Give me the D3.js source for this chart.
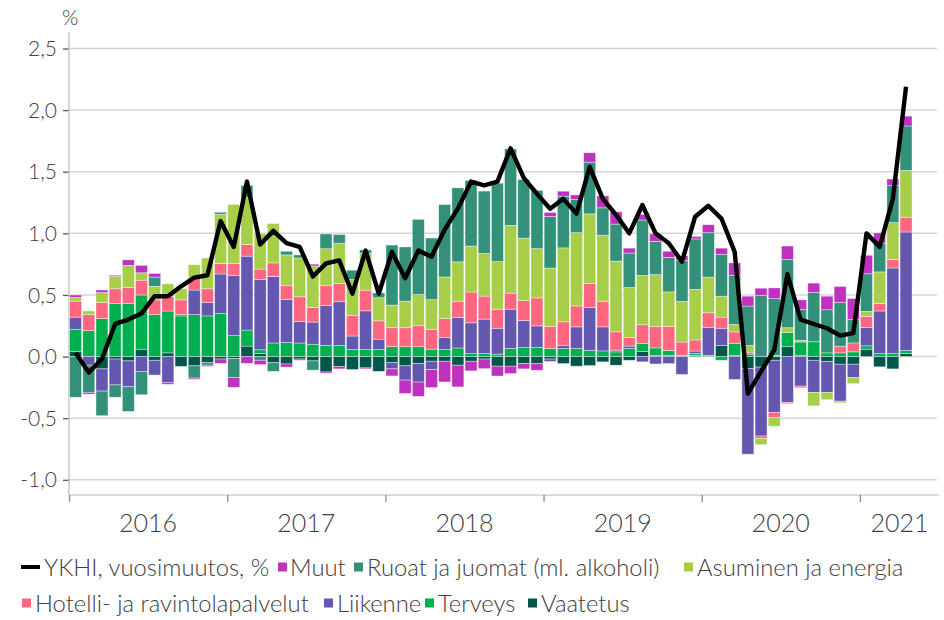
<!DOCTYPE html>
<html>
<head>
<meta charset="utf-8">
<script src="https://cdn.jsdelivr.net/npm/d3@7"></script>
<style>
  body { margin: 0; background: #fff; }
  svg { display: block; font-family: Lato, "Open Sans", sans-serif; font-weight: 300; }
</style>
</head>
<body>
<svg id="chart" width="944" height="620"></svg>
<script>
// kuukaudet 2016-01 ... 2021-04
var months = [
  "2016-01","2016-02","2016-03","2016-04","2016-05","2016-06","2016-07","2016-08","2016-09","2016-10","2016-11","2016-12",
  "2017-01","2017-02","2017-03","2017-04","2017-05","2017-06","2017-07","2017-08","2017-09","2017-10","2017-11","2017-12",
  "2018-01","2018-02","2018-03","2018-04","2018-05","2018-06","2018-07","2018-08","2018-09","2018-10","2018-11","2018-12",
  "2019-01","2019-02","2019-03","2019-04","2019-05","2019-06","2019-07","2019-08","2019-09","2019-10","2019-11","2019-12",
  "2020-01","2020-02","2020-03","2020-04","2020-05","2020-06","2020-07","2020-08","2020-09","2020-10","2020-11","2020-12",
  "2021-01","2021-02","2021-03","2021-04"
];
var years = ["2016", "2017", "2018", "2019", "2020", "2021"];
var yTicks = [-1, -0.5, 0, 0.5, 1, 1.5, 2, 2.5];

// YKHI, vuosimuutos %
var ykhi = [
  0.03, -0.13, -0.02, 0.265, 0.30, 0.35, 0.49, 0.49, 0.57, 0.64, 0.66, 1.10,
  0.89, 1.42, 0.91, 1.02, 0.92, 0.89, 0.65, 0.756, 0.78, 0.51, 0.86, 0.51,
  0.85, 0.635, 0.86, 0.81, 1.03, 1.20, 1.42, 1.39, 1.42, 1.69, 1.45, 1.32,
  1.20, 1.28, 1.16, 1.54, 1.28, 1.15, 1.0, 1.23, 1.0, 0.92, 0.77, 1.135,
  1.224, 1.12, 0.85, -0.30, -0.12, 0.053, 0.67, 0.30, 0.264, 0.23, 0.17, 0.19,
  1.0, 0.89, 1.28, 2.19
];

// vaikutukset, %-yksikköä
var vaatetus = [
  0.04, 0, -0.10, -0.02, -0.035, 0.06, -0.03, 0.03, -0.08, -0.075, -0.05, -0.02,
  -0.015, 0.085, 0.025, -0.05, -0.06, -0.02, -0.035, -0.125, -0.08, -0.105, -0.092, -0.12,
  -0.05, -0.075, -0.057, -0.038, -0.038, -0.07, -0.038, -0.02, -0.078, -0.078, -0.057, -0.057,
  -0.02, -0.057, -0.078, -0.073, -0.043, -0.07, -0.03, 0.04, 0.01, 0.01, 0, 0.01,
  0, 0.09, 0.01, -0.097, -0.085, -0.03, 0.08, 0.01, -0.03, -0.04, -0.062, -0.062,
  0.06, -0.083, -0.10, 0.024
];
var terveys = [
  0.18, 0.21, 0.31, 0.43, 0.43, 0.44, 0.34, 0.34, 0.33, 0.34, 0.33, 0.35,
  0.17, 0.13, 0.03, 0.11, 0.115, 0.11, 0.10, 0.09, 0.09, 0.057, 0.057, 0.057,
  0.08, 0.08, 0.08, 0.06, 0.057, 0.07, 0.024, 0.024, 0.02, 0.065, 0.073, 0.073,
  0.065, 0.065, 0.065, 0.05, 0.046, 0.038, 0.065, 0.068, 0.06, 0.04, 0.01, 0.015,
  0.01, -0.03, 0.095, 0.02, 0, 0.01, 0.116, 0.108, 0.12, 0.03, 0.03, 0.038,
  0.027, 0.024, 0.024, 0.027
];
var liikenne = [
  0.10, -0.07, -0.18, -0.21, -0.21, -0.12, -0.12, -0.21, 0.01, 0.20, 0.11, 0.32,
  0.49, 0.60, 0.57, 0.54, 0.35, 0.175, 0.18, 0.325, 0.355, 0.11, 0.314, 0.084,
  -0.05, -0.116, -0.15, -0.068, 0.097, 0.246, 0.25, 0.28, 0.21, 0.32, 0.22, 0.176,
  -0.02, 0.027, 0.176, 0.35, 0.195, 0.014, 0.02, -0.043, -0.06, -0.057, -0.145, 0.02,
  0.225, 0.14, -0.186, -0.695, -0.56, -0.425, -0.372, -0.24, -0.26, -0.25, -0.30, -0.108,
  0.15, 0.346, 0.695, 0.96
];
var hotelli = [
  0.13, 0.13, 0.13, 0.12, 0.13, 0.12, 0.12, 0.12, 0.12, 0.10, 0.11, 0.085,
  0.095, 0.095, 0.085, 0.11, 0.11, 0.20, 0.12, 0.16, 0.15, 0.168, 0.168, 0.149,
  0.154, 0.154, 0.17, 0.162, 0.154, 0.133, 0.25, 0.187, 0.154, 0.13, 0.162, 0.227,
  0.18, 0.19, 0.17, 0.195, 0.208, 0.149, 0.07, 0.15, 0.175, 0.195, 0.108, 0.09,
  0.12, 0.09, 0.095, 0.016, -0.02, -0.04, -0.011, -0.014, 0, 0, 0.054, 0.073,
  0.09, 0.06, 0.068, 0.12
];
var asuminen = [
  0.03, 0.03, 0.08, 0.10, 0.18, 0.06, 0.11, 0.10, 0.09, 0.105, 0.25, 0.40,
  0.48, 0.38, 0.29, 0.32, 0.25, 0.315, 0.335, 0.30, 0.325, 0.29, 0.30, 0.187,
  0.184, 0.216, 0.254, 0.24, 0.338, 0.32, 0.373, 0.346, 0.387, 0.55, 0.506, 0.40,
  0.473, 0.60, 0.595, 0.563, 0.536, 0.574, 0.405, 0.40, 0.42, 0.28, 0.33, 0.41,
  0.29, 0.17, 0.06, 0.054, -0.05, -0.07, 0.038, 0.014, -0.11, -0.06, -0.014, -0.05,
  0.04, 0.257, 0.30, 0.38
];
var ruoat = [
  -0.33, -0.22, -0.20, -0.10, -0.20, -0.19, 0.075, 0, 0, -0.10, -0.02, 0.016,
  -0.155, 0.10, -0.03, -0.07, 0.03, 0.025, -0.075, 0.12, 0.07, 0.076, 0.027, 0.04,
  0.487, 0.44, 0.61, 0.50, 0.587, 0.60, 0.533, 0.506, 0.636, 0.62, 0.476, 0.473,
  0.42, 0.42, 0.268, 0.42, 0.222, 0.30, 0.28, 0.45, 0.27, 0.28, 0.33, 0.41,
  0.36, 0.34, 0.40, 0.32, 0.495, 0.46, 0.555, 0.25, 0.40, 0.35, 0.355, 0.19,
  0.305, 0.23, 0.30, 0.36
];
var muut = [
  0.02, -0.015, 0.02, 0.01, 0.045, 0.06, 0.03, -0.015, 0, -0.01, -0.01, -0.035,
  -0.08, -0.055, -0.035, 0, -0.025, -0.01, 0.015, -0.01, -0.02, 0, -0.008, 0,
  -0.057, -0.108, -0.116, -0.146, -0.168, -0.176, -0.078, -0.078, -0.08, -0.06, -0.043, -0.054,
  0.032, 0.04, 0.038, 0.076, 0.097, 0.10, 0.04, 0.046, 0.06, 0.05, 0.04, 0.02,
  0.065, 0.05, 0.10, 0.08, 0.06, 0.087, 0.108, 0.078, 0.076, 0.11, 0.13, 0.17,
  0.15, 0.087, 0.054, 0.08
];

// pinoamisjärjestys alhaalta ylös
var keys = ["Vaatetus", "Terveys", "Liikenne", "Hotelli- ja ravintolapalvelut",
            "Asuminen ja energia", "Ruoat ja juomat (ml. alkoholi)", "Muut"];
var colors = {
  "Vaatetus": "#00574a",
  "Terveys": "#00b04f",
  "Liikenne": "#6457b0",
  "Hotelli- ja ravintolapalvelut": "#ff6680",
  "Asuminen ja energia": "#a6ce48",
  "Ruoat ja juomat (ml. alkoholi)": "#33917a",
  "Muut": "#bf31bf"
};
var seriesData = [vaatetus, terveys, liikenne, hotelli, asuminen, ruoat, muut];

var rows = months.map(function (m, i) {
  var r = { month: m };
  keys.forEach(function (k, j) { r[k] = seriesData[j][i]; });
  return r;
});

var svg = d3.select("#chart");
var textColor = "#404040";
var plotLeft = 69, plotRight = 939, plotTop = 48.5, plotBottom = 495;
var nSlots = 66; // aikaakseli jatkuu kesäkuuhun 2021

var x = d3.scaleBand().domain(d3.range(nSlots)).range([plotLeft, plotRight]).paddingInner(0.09).paddingOuter(0.045);
var xLin = d3.scaleLinear().domain([0, nSlots]).range([plotLeft, plotRight]);
var y = d3.scaleLinear().domain([-1, 2.5]).range([479.8, plotTop]);

var fmt = d3.formatLocale({ decimal: ",", thousands: " ", grouping: [3], currency: ["", " €"], minus: "-" }).format(".1f");

// ruudukko
svg.append("g").selectAll("line").data(yTicks).enter().append("line")
  .attr("x1", plotLeft).attr("x2", plotRight - 2)
  .attr("y1", function (d) { return y(d); }).attr("y2", function (d) { return y(d); })
  .attr("stroke", "#d4d4d4").attr("stroke-width", 1.5);

// y-akseli
var yAxis = svg.append("g").attr("transform", "translate(" + plotLeft + ",0)")
  .call(d3.axisLeft(y).tickValues(yTicks).tickFormat(fmt).tickSize(6).tickPadding(6));
yAxis.select(".domain").remove();
yAxis.selectAll(".tick line").attr("stroke", "#595959").attr("stroke-width", 1.3);
yAxis.selectAll(".tick text").attr("fill", textColor).style("font-size", "21px")
  .style("font-family", "Lato, 'Open Sans', sans-serif").attr("dy", "0.34em");
svg.append("line").attr("x1", plotLeft).attr("x2", plotLeft).attr("y1", 32).attr("y2", plotBottom)
  .attr("stroke", "#bfbfbf").attr("stroke-width", 1.3);

svg.append("text").attr("x", 62).attr("y", 25).attr("fill", textColor)
  .style("font-size", "21px").text("%");

// pinotut pylväät
var stacked = d3.stack().keys(keys).offset(d3.stackOffsetDiverging)(rows);
svg.append("g").selectAll("g").data(stacked).enter().append("g")
  .attr("fill", function (d) { return colors[d.key]; })
  .selectAll("rect").data(function (d) { return d; }).enter().append("rect")
  .attr("x", function (d, i) { return x(i); })
  .attr("width", x.bandwidth())
  .attr("y", function (d) { return y(Math.max(d[0], d[1])); })
  .attr("height", function (d) { return Math.abs(y(d[0]) - y(d[1])); })
  .attr("stroke", "#ffffff").attr("stroke-opacity", 0.55).attr("stroke-width", 0.7);

// x-akseli
svg.append("line").attr("x1", plotLeft).attr("x2", plotRight).attr("y1", plotBottom).attr("y2", plotBottom)
  .attr("stroke", "#d0d0d0").attr("stroke-width", 1.5);
var xAxis = svg.append("g").attr("transform", "translate(0," + plotBottom + ")")
  .call(d3.axisBottom(xLin).tickValues([0, 12, 24, 36, 48, 60]).tickSize(7).tickFormat(""));
xAxis.select(".domain").remove();
xAxis.selectAll(".tick line").attr("stroke", "#8c8c8c").attr("stroke-width", 1.3);

svg.append("g").selectAll("text").data(years).enter().append("text")
  .attr("x", function (d, i) { return (xLin(i * 12) + xLin(Math.min((i + 1) * 12, nSlots))) / 2; })
  .attr("y", 532)
  .attr("text-anchor", "middle").attr("fill", textColor)
  .style("font-size", "25px").text(function (d) { return d; });

// YKHI-viiva
var line = d3.line()
  .x(function (d, i) { return x(i) + x.bandwidth() / 2; })
  .y(function (d) { return y(d); });
svg.append("path").datum(ykhi).attr("d", line)
  .attr("fill", "none").attr("stroke", "#000").attr("stroke-width", 4.4)
  .attr("stroke-linejoin", "round").attr("stroke-linecap", "butt");

// selite
var legendItems = [
  { label: "YKHI, vuosimuutos, %", type: "line", mx: 21, tx: 44, row: 0 },
  { label: "Muut", type: "rect", mx: 278, tx: 290, row: 0 },
  { label: "Ruoat ja juomat (ml. alkoholi)", type: "rect", mx: 354, tx: 367, row: 0 },
  { label: "Asuminen ja energia", type: "rect", mx: 684, tx: 697, row: 0 },
  { label: "Hotelli- ja ravintolapalvelut", type: "rect", mx: 22, tx: 35, row: 1 },
  { label: "Liikenne", type: "rect", mx: 324, tx: 337, row: 1 },
  { label: "Terveys", type: "rect", mx: 425, tx: 438, row: 1 },
  { label: "Vaatetus", type: "rect", mx: 528, tx: 541, row: 1 }
];
var rowY = [567, 603];
var lg = svg.append("g").selectAll("g").data(legendItems).enter().append("g");
lg.each(function (d) {
  var g = d3.select(this);
  var cy = rowY[d.row];
  if (d.type === "line") {
    g.append("line").attr("x1", d.mx).attr("x2", d.mx + 19).attr("y1", cy).attr("y2", cy)
      .attr("stroke", "#000").attr("stroke-width", 4);
  } else {
    g.append("rect").attr("x", d.mx).attr("y", cy - 4.5).attr("width", 9).attr("height", 9)
      .attr("fill", colors[d.label]);
  }
  g.append("text").attr("x", d.tx).attr("y", cy + 9).attr("fill", textColor)
    .style("font-size", "23.8px").text(d.label);
});
</script>
</body>
</html>
